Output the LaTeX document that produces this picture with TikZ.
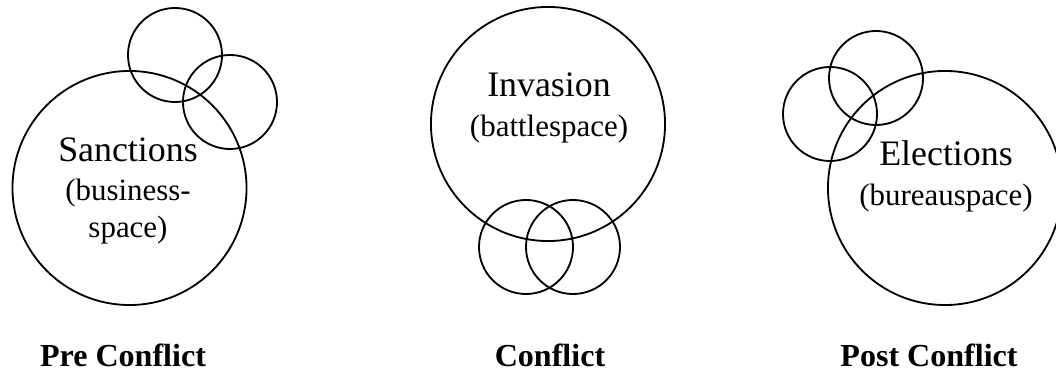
\documentclass[tikz,border=0pt]{standalone}
\usepackage{fontspec}
\setmainfont{Liberation Serif}
\usetikzlibrary{positioning}
\definecolor{ringink}{HTML}{000000}
\newcommand\ringhead{\fontsize{25.5pt}{28pt}\selectfont}

\tikzset{
  bigring/.style={circle, draw=ringink, line width=1.3pt, minimum size=5.85cm, inner sep=0pt},
  smallring/.style={circle, draw=ringink, line width=1.3pt, minimum size=2.35cm, inner sep=0pt},
  ringtext/.style={align=center, inner sep=0pt, font=\fontsize{22pt}{26pt}\selectfont},
  phaselabel/.style={anchor=base, inner sep=0pt, font=\fontsize{22.8pt}{27pt}\selectfont\bfseries}
}

\begin{document}
\begin{tikzpicture}[x=0.025cm, y=-0.025cm]
  \useasboundingbox (0,0) rectangle (1056,372);

  % --- Pre conflict: sanctions ---
  \node[bigring]   (sanc)  at (129.5,188) {};
  \node[smallring] (sancA) at (175,55)    {};
  \node[smallring] (sancB) at (230,102)   {};
  \node[ringtext]  (sanctxt) at (128,191) {{\ringhead Sanctions}\\[2pt](business-\\space)};

  % --- Conflict: invasion ---
  \node[bigring]   (inv)  at (548,124) {};
  \node[smallring] (invA) at (526,247) {};
  \node[smallring] (invB) at (573,247) {};
  \node[ringtext]  (invtxt) at (549,108) {{\ringhead Invasion}\\[2pt](battlespace)};

  % --- Post conflict: elections ---
  \node[bigring]   (elec)  at (945,188) {};
  \node[smallring] (elecA) at (876,78)  {};
  \node[smallring] (elecB) at (830,114) {};
  \node[ringtext]  (electxt) at (946,176.5) {{\ringhead Elections}\\[2pt](bureauspace)};

  % --- Phase labels ---
  \node[phaselabel] (pre)  at (123,366) {Pre Conflict};
  \node[phaselabel] (conf) at (550,366) {Conflict};
  \node[phaselabel] (post) at (929,366) {Post Conflict};
\end{tikzpicture}
\end{document}
